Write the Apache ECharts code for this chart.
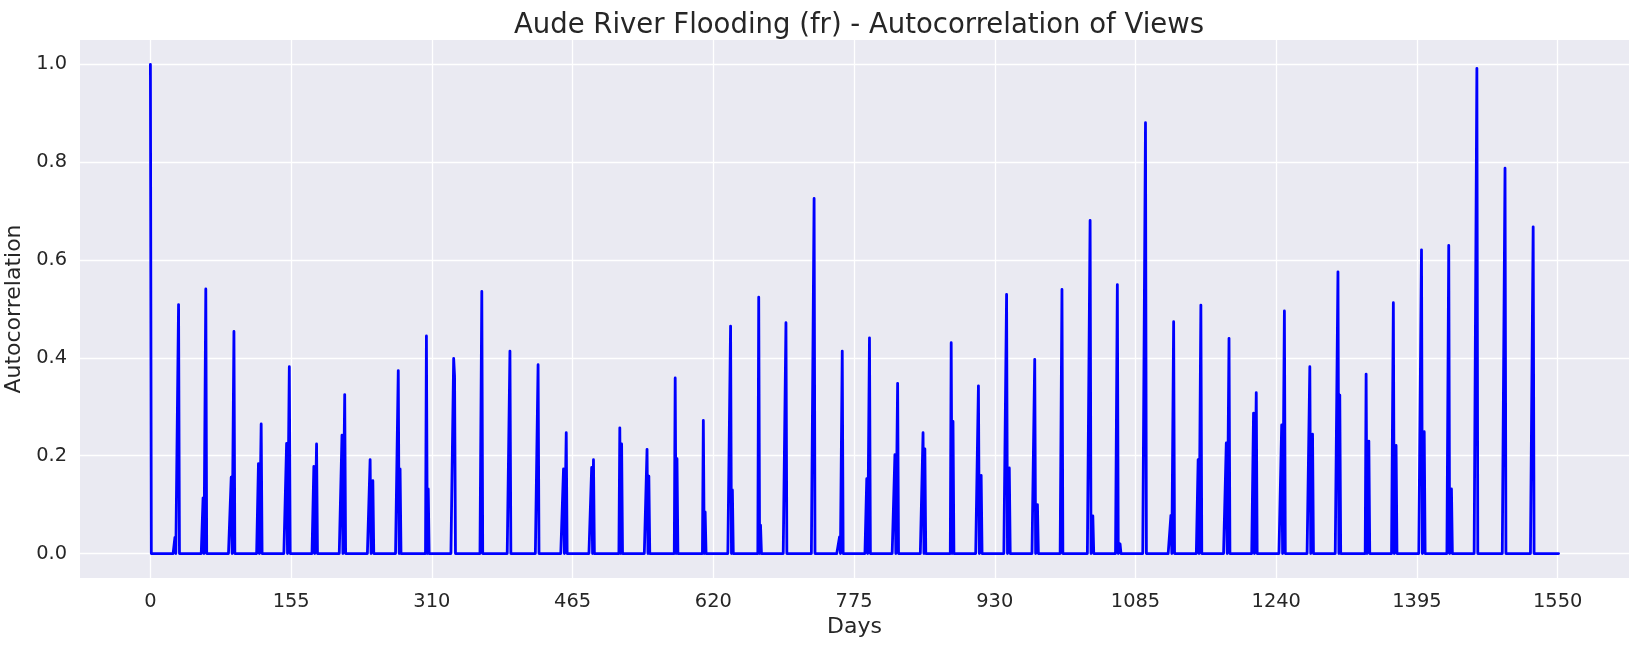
<!DOCTYPE html>
<html>
<head>
<meta charset="utf-8">
<script src="https://cdn.jsdelivr.net/npm/echarts@6/dist/echarts.min.js"></script>
<style>
html,body{margin:0;padding:0;background:#ffffff;}
#chart{width:1639px;height:647px;}
</style>
</head>
<body>
<div id="chart"></div>
<script>
// ---- data ----
const totalDays = 1552; // lags 0..1551
const xTicks = [0, 155, 310, 465, 620, 775, 930, 1085, 1240, 1395, 1550];
const yTicks = [0, 0.2, 0.4, 0.6, 0.8, 1.0];

const peakDays = [0,31,61,92,122,153,183,214,242,273,304,334,365,396,427,458,488,517,547,578,609,639,670,700,731,762,792,823,851,882,912,943,974,1004,1035,1065,1096,1127,1157,1188,1218,1249,1277,1308,1339,1369,1400,1430,1461,1492,1523];
const peakValues = [1.0,0.509,0.541,0.454,0.265,0.382,0.224,0.325,0.192,0.374,0.445,0.399,0.536,0.414,0.386,0.247,0.192,0.257,0.213,0.359,0.272,0.465,0.524,0.472,0.726,0.414,0.441,0.348,0.247,0.431,0.343,0.530,0.397,0.540,0.681,0.550,0.881,0.474,0.508,0.440,0.329,0.496,0.382,0.576,0.367,0.513,0.621,0.630,0.992,0.788,0.668];

const sideDays = [27,58,89,119,150,180,211,245,275,306,335,455,486,519,549,580,611,641,672,759,789,820,853,884,915,946,977,1038,1068,1124,1154,1185,1215,1246,1280,1310,1342,1372,1403,1433];
const sideValues = [0.033,0.114,0.156,0.184,0.225,0.178,0.242,0.149,0.173,0.132,0.363,0.173,0.176,0.224,0.158,0.194,0.085,0.13,0.058,0.034,0.153,0.202,0.214,0.270,0.160,0.175,0.100,0.077,0.02,0.078,0.192,0.226,0.287,0.263,0.244,0.324,0.230,0.221,0.249,0.132];

// ---- build the daily series (zero baseline with the read values) ----
const values = new Array(totalDays).fill(0);
sideDays.forEach((d, i) => { values[d] = sideValues[i]; });
peakDays.forEach((d, i) => { values[d] = peakValues[i]; });
const seriesData = values.map((v, d) => [d, v]);

const textColor = '#262626';
const fontFamily = 'DejaVu Sans';

const chart = echarts.init(document.getElementById('chart'), null, {renderer: 'canvas'});
chart.setOption({
  backgroundColor: '#ffffff',
  animation: false,
  title: {
    text: 'Aude River Flooding (fr) - Autocorrelation of Views',
    left: 854,
    textAlign: 'center',
    top: 7,
    textStyle: {color: textColor, fontFamily: fontFamily, fontSize: 27.5, fontWeight: 'normal'}
  },
  grid: {
    left: 80, right: 10, top: 40, bottom: 69,
    show: true, backgroundColor: '#EAEAF2', borderWidth: 0,
    containLabel: false, outerBoundsMode: 'none'
  },
  xAxis: {
    type: 'value',
    min: -77.55, max: 1628.55,
    name: 'Days', nameLocation: 'middle', nameGap: 38,
    nameTextStyle: {color: textColor, fontFamily: fontFamily, fontSize: 22},
    axisLine: {show: false},
    axisTick: {show: false, customValues: xTicks},
    axisLabel: {customValues: xTicks, color: textColor, fontFamily: fontFamily, fontSize: 19.4, margin: 14,
      formatter: v => String(Math.round(v))},
    splitLine: {show: true, lineStyle: {color: '#ffffff', width: 1.3}}
  },
  yAxis: {
    type: 'value',
    min: -0.05, max: 1.05,
    name: 'Autocorrelation', nameLocation: 'middle', nameGap: 50, nameRotate: 90,
    nameTextStyle: {color: textColor, fontFamily: fontFamily, fontSize: 22},
    axisLine: {show: false},
    axisTick: {show: false, customValues: yTicks},
    axisLabel: {customValues: yTicks, color: textColor, fontFamily: fontFamily, fontSize: 19.4, margin: 13,
      formatter: v => v.toFixed(1)},
    splitLine: {show: true, lineStyle: {color: '#ffffff', width: 1.3}}
  },
  series: [{
    type: 'line',
    data: seriesData,
    showSymbol: false,
    symbol: 'none',
    lineStyle: {color: '#0000ff', width: 2.8, join: 'round', cap: 'round'},
    itemStyle: {color: '#0000ff'},
    z: 3
  }]
});
</script>
</body>
</html>
